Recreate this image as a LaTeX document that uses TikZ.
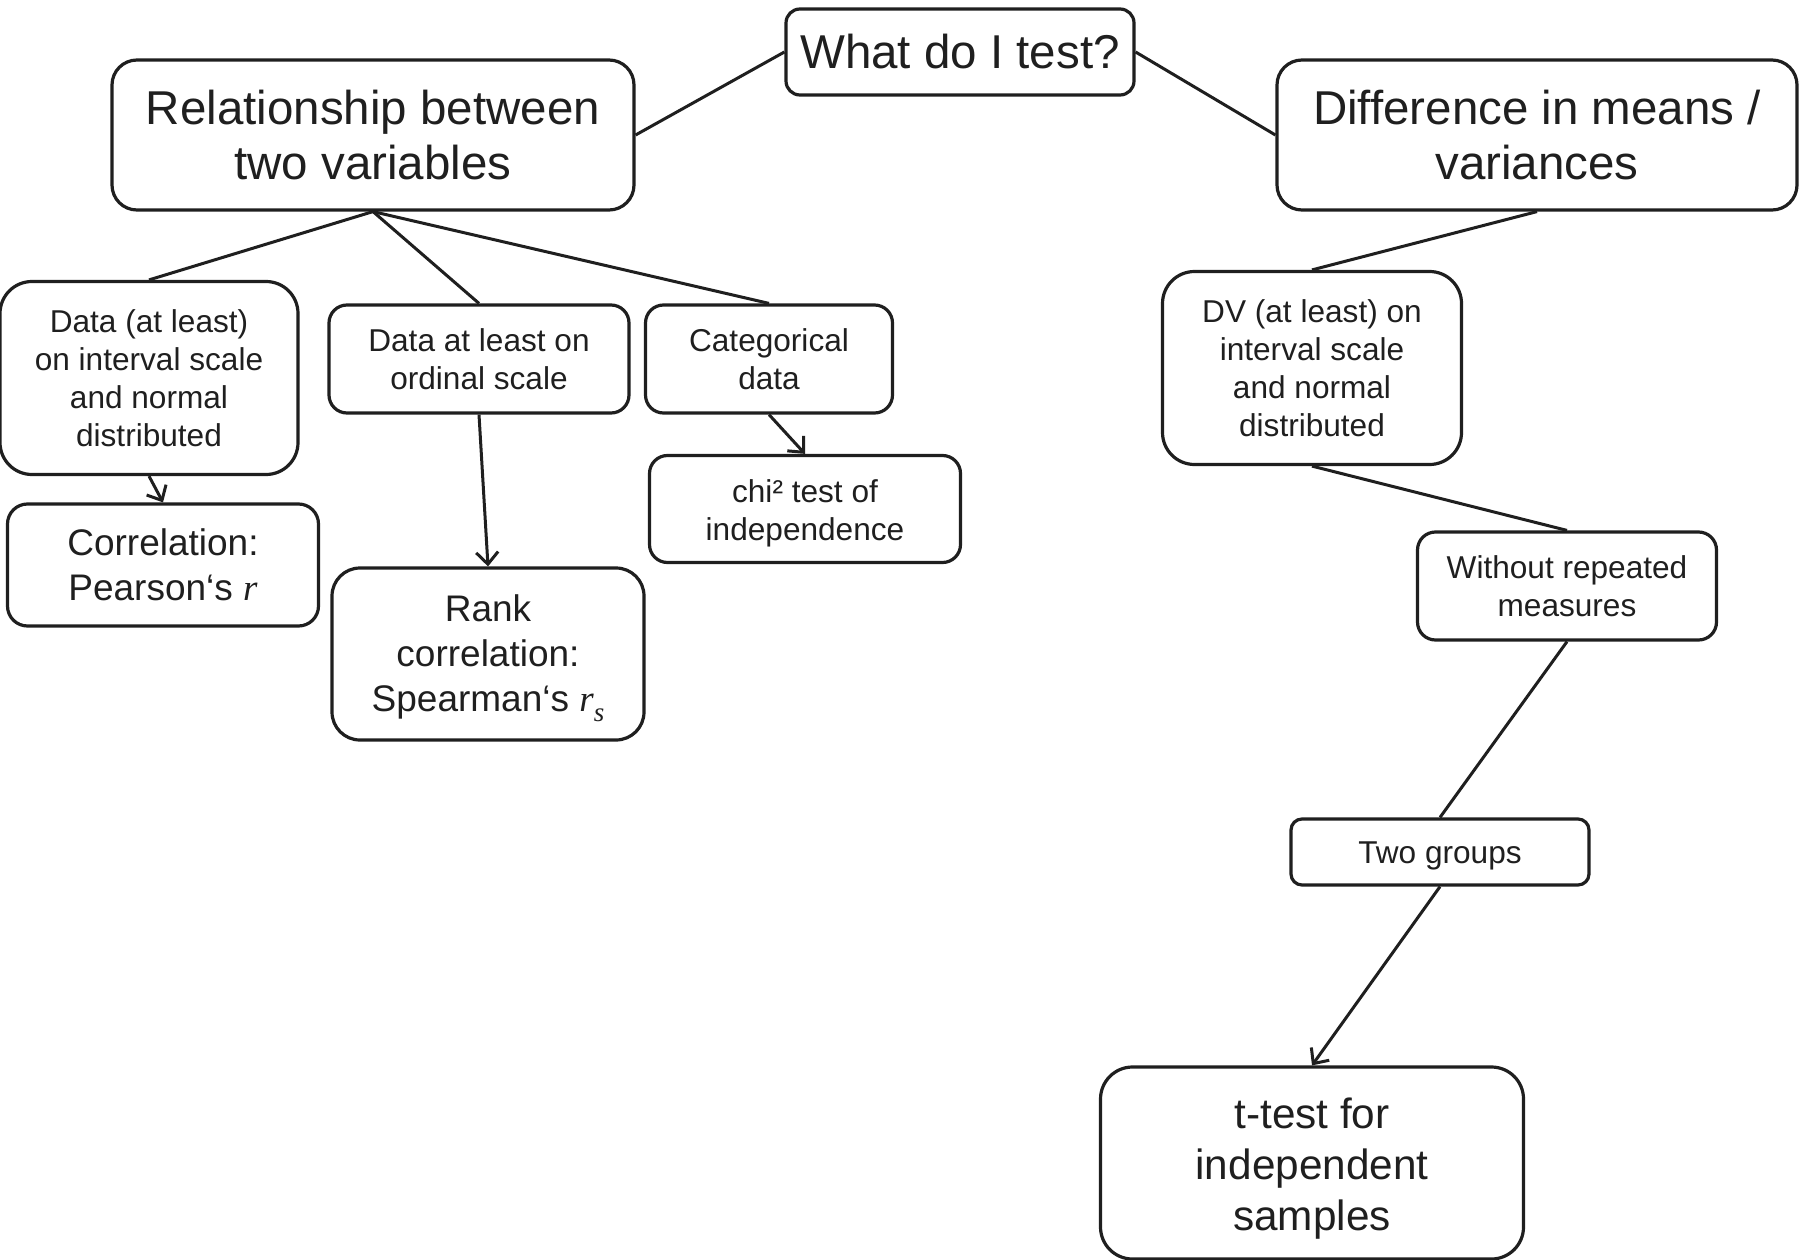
\documentclass[tikz,border=0pt]{standalone}
\usepackage{fontspec}
\setmainfont{Liberation Sans}
\newfontfamily\rfont{Liberation Serif}
\usetikzlibrary{arrows.meta}
\definecolor{ink}{HTML}{1F1F1F}
\newcommand{\itr}{{\rfont\itshape r}}
\newcommand{\itrs}{{\rfont\itshape r}\raisebox{-0.28em}{\rfont\itshape\fontsize{27}{27}\selectfont s}}
\tikzset{
  box/.style={draw=ink, line width=3.2pt, rounded corners=#1, align=center, inner sep=0pt, text=ink},
  lbl/.style={align=center, inner sep=0pt, text=ink},
  big/.style={font=\fontsize{47.5}{55}\selectfont},
  med/.style={font=\fontsize{37}{45}\selectfont},
  sml/.style={font=\fontsize{31.6}{38}\selectfont},
  tt/.style={font=\fontsize{42.3}{51}\selectfont},
  link/.style={draw=ink, line width=3pt},
  arr/.style={link, -{Straight Barb[length=12pt,width=22pt,line width=3pt]}}
}
\begin{document}
\begin{tikzpicture}[x=1pt,y=-1pt]
\useasboundingbox (0,0) rectangle (1799,1260);
\node[box=14, big, minimum width=348, minimum height=86] (top) at (960,52) {What do I test?};
\node[box=25, big, minimum width=522, minimum height=150] (rel) at (373,135) {Relationship between\\two variables};
\node[box=25, big, minimum width=520, minimum height=150] (dif) at (1537,135) {Difference in means /\\variances};
\node[box=32, sml, minimum width=298, minimum height=193] (dint) at (149,378) {Data (at least)\\on interval scale\\and normal\\distributed};
\node[box=18, sml, minimum width=300, minimum height=108] (dord) at (479,359) {Data at least on\\ordinal scale};
\node[box=18, sml, minimum width=247, minimum height=108] (cat) at (769,359) {Categorical\\data};
\node[box=18, minimum width=311, minimum height=107] (chi) at (805,509) {};
\node[lbl, sml] (chiT) at (805,513) {chi² test of\\independence};
\node[box=20, med, minimum width=311, minimum height=122] (cor) at (163,565) {Correlation:\\Pearson‘s \itr};
\node[box=28, minimum width=312, minimum height=172] (rank) at (488,654) {};
\node[lbl, med] (rankT) at (488,658) {Rank\\correlation:\\Spearman‘s \itrs};
\node[box=32, sml, minimum width=299, minimum height=193] (dv) at (1312,368) {DV (at least) on\\interval scale\\and normal\\distributed};
\node[box=18, sml, minimum width=299, minimum height=108] (wrm) at (1567,586) {Without repeated\\measures};
\node[box=11, minimum width=298, minimum height=66] (two) at (1440,852) {};
\node[lbl, sml] (twoT) at (1440,856) {Two groups};
\node[box=32, minimum width=423, minimum height=192] (tt) at (1312,1163) {};
\node[lbl, tt] (ttT) at (1312,1169) {t-test for\\independent\\samples};
\draw[link] (top.west) -- (rel.east);
\draw[link] (top.east) -- (dif.west);
\draw[link] (rel.south) -- (dint.north);
\draw[link] (rel.south) -- (dord.north);
\draw[link] (rel.south) -- (cat.north);
\draw[arr] (dint.south) -- (cor.north);
\draw[arr] (dord.south) -- (rank.north);
\draw[arr] (cat.south) -- (chi.north);
\draw[link] (dif.south) -- (dv.north);
\draw[link] (dv.south) -- (wrm.north);
\draw[link] (wrm.south) -- (two.north);
\draw[arr] (two.south) -- (tt.north);
\end{tikzpicture}
\end{document}
